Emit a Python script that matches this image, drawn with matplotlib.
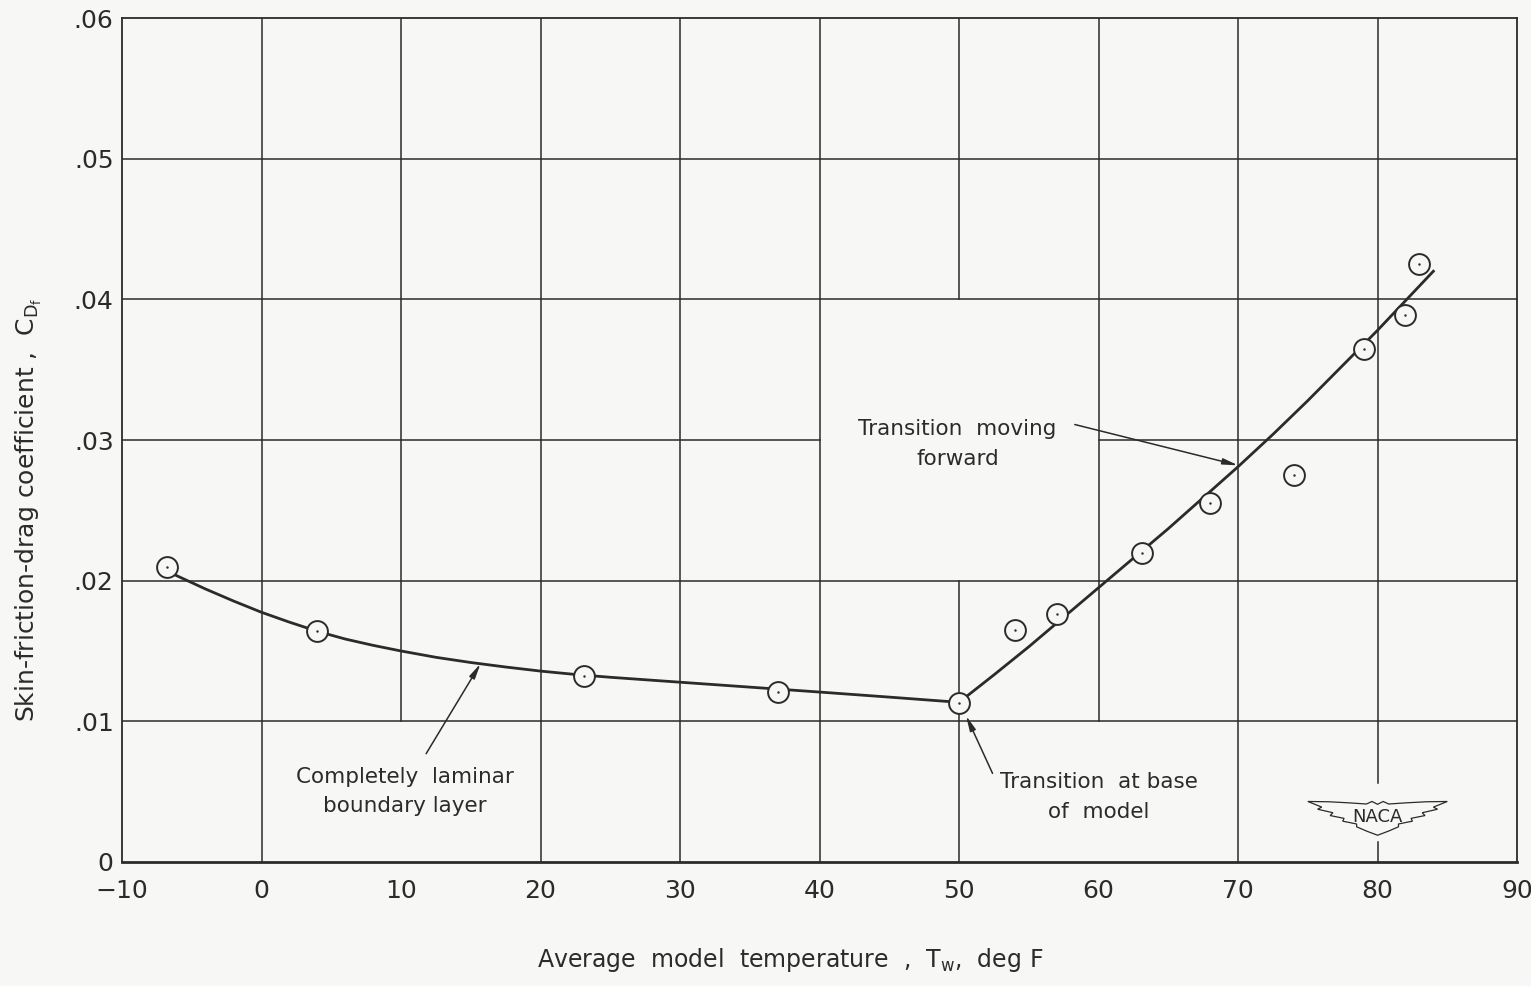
import matplotlib.pyplot as plt
from matplotlib.patches import Polygon

# Skin-friction drag vs. average model temperature (NACA figure)

# measured points (open circles)
temp_f = [-6.8, 4.0, 23.1, 37.0, 50.0, 54.0, 57.0, 63.1, 68.0, 74.0, 79.0, 82.0, 83.0]
cdf = [0.0210, 0.0164, 0.0132, 0.0121, 0.0113, 0.0165, 0.0176, 0.0220,
       0.0255, 0.0275, 0.0365, 0.0389, 0.0425]

# faired curve, completely laminar boundary layer
laminar_t = [-6.4, -4, -2, 0, 2, 4, 6, 8, 10, 12.5, 15, 17.5, 20, 22.5, 25,
             30, 35, 40, 45, 50]
laminar_cdf = [0.0205, 0.0194, 0.01855, 0.01775, 0.01705, 0.0164, 0.01585, 0.0154,
               0.0150, 0.01455, 0.01418, 0.01386, 0.01357, 0.01333, 0.01313,
               0.01278, 0.01243, 0.01208, 0.01172, 0.01135]

# faired curve, transition moving forward
trans_t = [50, 52.5, 55, 57.5, 60, 62.5, 65, 67.5, 70, 72.5, 75, 77.5, 80, 82, 84]
trans_cdf = [0.01135, 0.0133, 0.0153, 0.0174, 0.0195, 0.0216, 0.0237, 0.0259,
             0.0281, 0.0304, 0.0328, 0.0353, 0.0378, 0.0399, 0.0420]

x_ticks = [-10, 0, 10, 20, 30, 40, 50, 60, 70, 80, 90]
x_labels = ['\u221210', '0', '10', '20', '30', '40', '50', '60', '70', '80', '90']
y_ticks = [0, 0.01, 0.02, 0.03, 0.04, 0.05, 0.06]
y_labels = ['0', '.01', '.02', '.03', '.04', '.05', '.06']

ink = '#2b2b2b'
paper = '#f7f7f5'

plt.rcParams['font.family'] = ['DejaVu Sans']
plt.rcParams['mathtext.default'] = 'regular'

fig = plt.figure(figsize=(15.31, 9.86), dpi=100, facecolor=paper)
ax = fig.add_axes([0.0797, 0.1258, 0.9112, 0.8559])
ax.set_facecolor(paper)
ax.set_xlim(-10, 90)
ax.set_ylim(0, 0.06)

# grid drawn by hand so that the open cells of the original stay open
v_gaps = {10: [(0, 0.01)], 50: [(0.02, 0.04)], 60: [(0, 0.01)], 80: [(0.0014, 0.0056)]}
h_gaps = {0.03: [(40, 60)]}


def split(lo, hi, gaps):
    segs = []
    start = lo
    for g0, g1 in sorted(gaps):
        segs.append((start, g0))
        start = g1
    segs.append((start, hi))
    return segs


for xv in x_ticks[1:-1]:
    for a, b in split(0, 0.06, v_gaps.get(xv, [])):
        ax.plot([xv, xv], [a, b], color=ink, lw=1.1, zorder=1)
for yv in y_ticks[1:-1]:
    for a, b in split(-10, 90, h_gaps.get(yv, [])):
        ax.plot([a, b], [yv, yv], color=ink, lw=1.1, zorder=1)

for side in ['left', 'right', 'top']:
    ax.spines[side].set_linewidth(1.3)
    ax.spines[side].set_color(ink)
ax.spines['bottom'].set_linewidth(2.0)
ax.spines['bottom'].set_color(ink)

ax.set_xticks(x_ticks)
ax.set_xticklabels(x_labels)
ax.set_yticks(y_ticks)
ax.set_yticklabels(y_labels)
ax.tick_params(axis='both', length=0, labelsize=18, colors=ink)
ax.tick_params(axis='x', pad=12)
ax.tick_params(axis='y', pad=6)

# curves and points
ax.plot(laminar_t, laminar_cdf, color=ink, lw=2.0, zorder=3)
ax.plot(trans_t, trans_cdf, color=ink, lw=2.0, zorder=3)
ax.plot(temp_f, cdf, 'o', ms=15, mfc=paper, mec=ink, mew=1.4, zorder=4)
ax.plot(temp_f, cdf, '.', ms=1.5, color=ink, zorder=5)

arrow = dict(arrowstyle='-|>,head_length=0.9,head_width=0.18', color=ink, lw=1.1,
             shrinkA=0, shrinkB=0)

ax.annotate('', xy=(15.7, 0.0141), xytext=(11.8, 0.0077), arrowprops=arrow, zorder=6)
ax.text(10.3, 0.0050, 'Completely  laminar\nboundary layer', ha='center', va='center',
        fontsize=15.5, color=ink, linespacing=1.6)

ax.annotate('', xy=(50.5, 0.0104), xytext=(52.4, 0.0063), arrowprops=arrow, zorder=6)
ax.text(60.0, 0.0046, 'Transition  at base\nof  model', ha='center', va='center',
        fontsize=15.5, color=ink, linespacing=1.6)

ax.annotate('', xy=(70.0, 0.0282), xytext=(58.3, 0.0311), arrowprops=arrow, zorder=6)
ax.text(49.9, 0.0297, 'Transition  moving\nforward', ha='center', va='center',
        fontsize=15.5, color=ink, linespacing=1.6)

# NACA wing badge: right half outline (offset from centre), mirrored for the left
half_wing = [(0.0, 0.0041), (0.4, 0.0043), (0.8, 0.00412), (2.0, 0.0042), (3.5, 0.00428),
             (5.0, 0.0043), (4.0, 0.0039), (4.3, 0.00375), (3.2, 0.0035), (3.4, 0.0033),
             (2.4, 0.0031), (2.5, 0.0029), (1.5, 0.0027), (1.5, 0.0025), (0.8, 0.0022),
             (0.0, 0.0019)]
outline = [(80 + dx, y) for dx, y in half_wing] + [(80 - dx, y) for dx, y in half_wing[::-1]]
ax.add_patch(Polygon(outline, closed=True, fc=paper, ec=ink, lw=0.9, zorder=5))
ax.text(80.0, 0.0032, 'NACA', ha='center', va='center', fontsize=13, color=ink, zorder=6)

fig.text(29 / 1531, 1 - 510 / 986, 'Skin-friction-drag coefficient ,  $C_{D_f}$',
         rotation=90, ha='center', va='center', fontsize=18, color=ink)
fig.text(790 / 1531, 1 - 960 / 986, 'Average  model  temperature  ,  $T_w$,  deg F',
         ha='center', va='center', fontsize=17, color=ink)

fig.savefig('out.png', dpi=100, facecolor=paper)
